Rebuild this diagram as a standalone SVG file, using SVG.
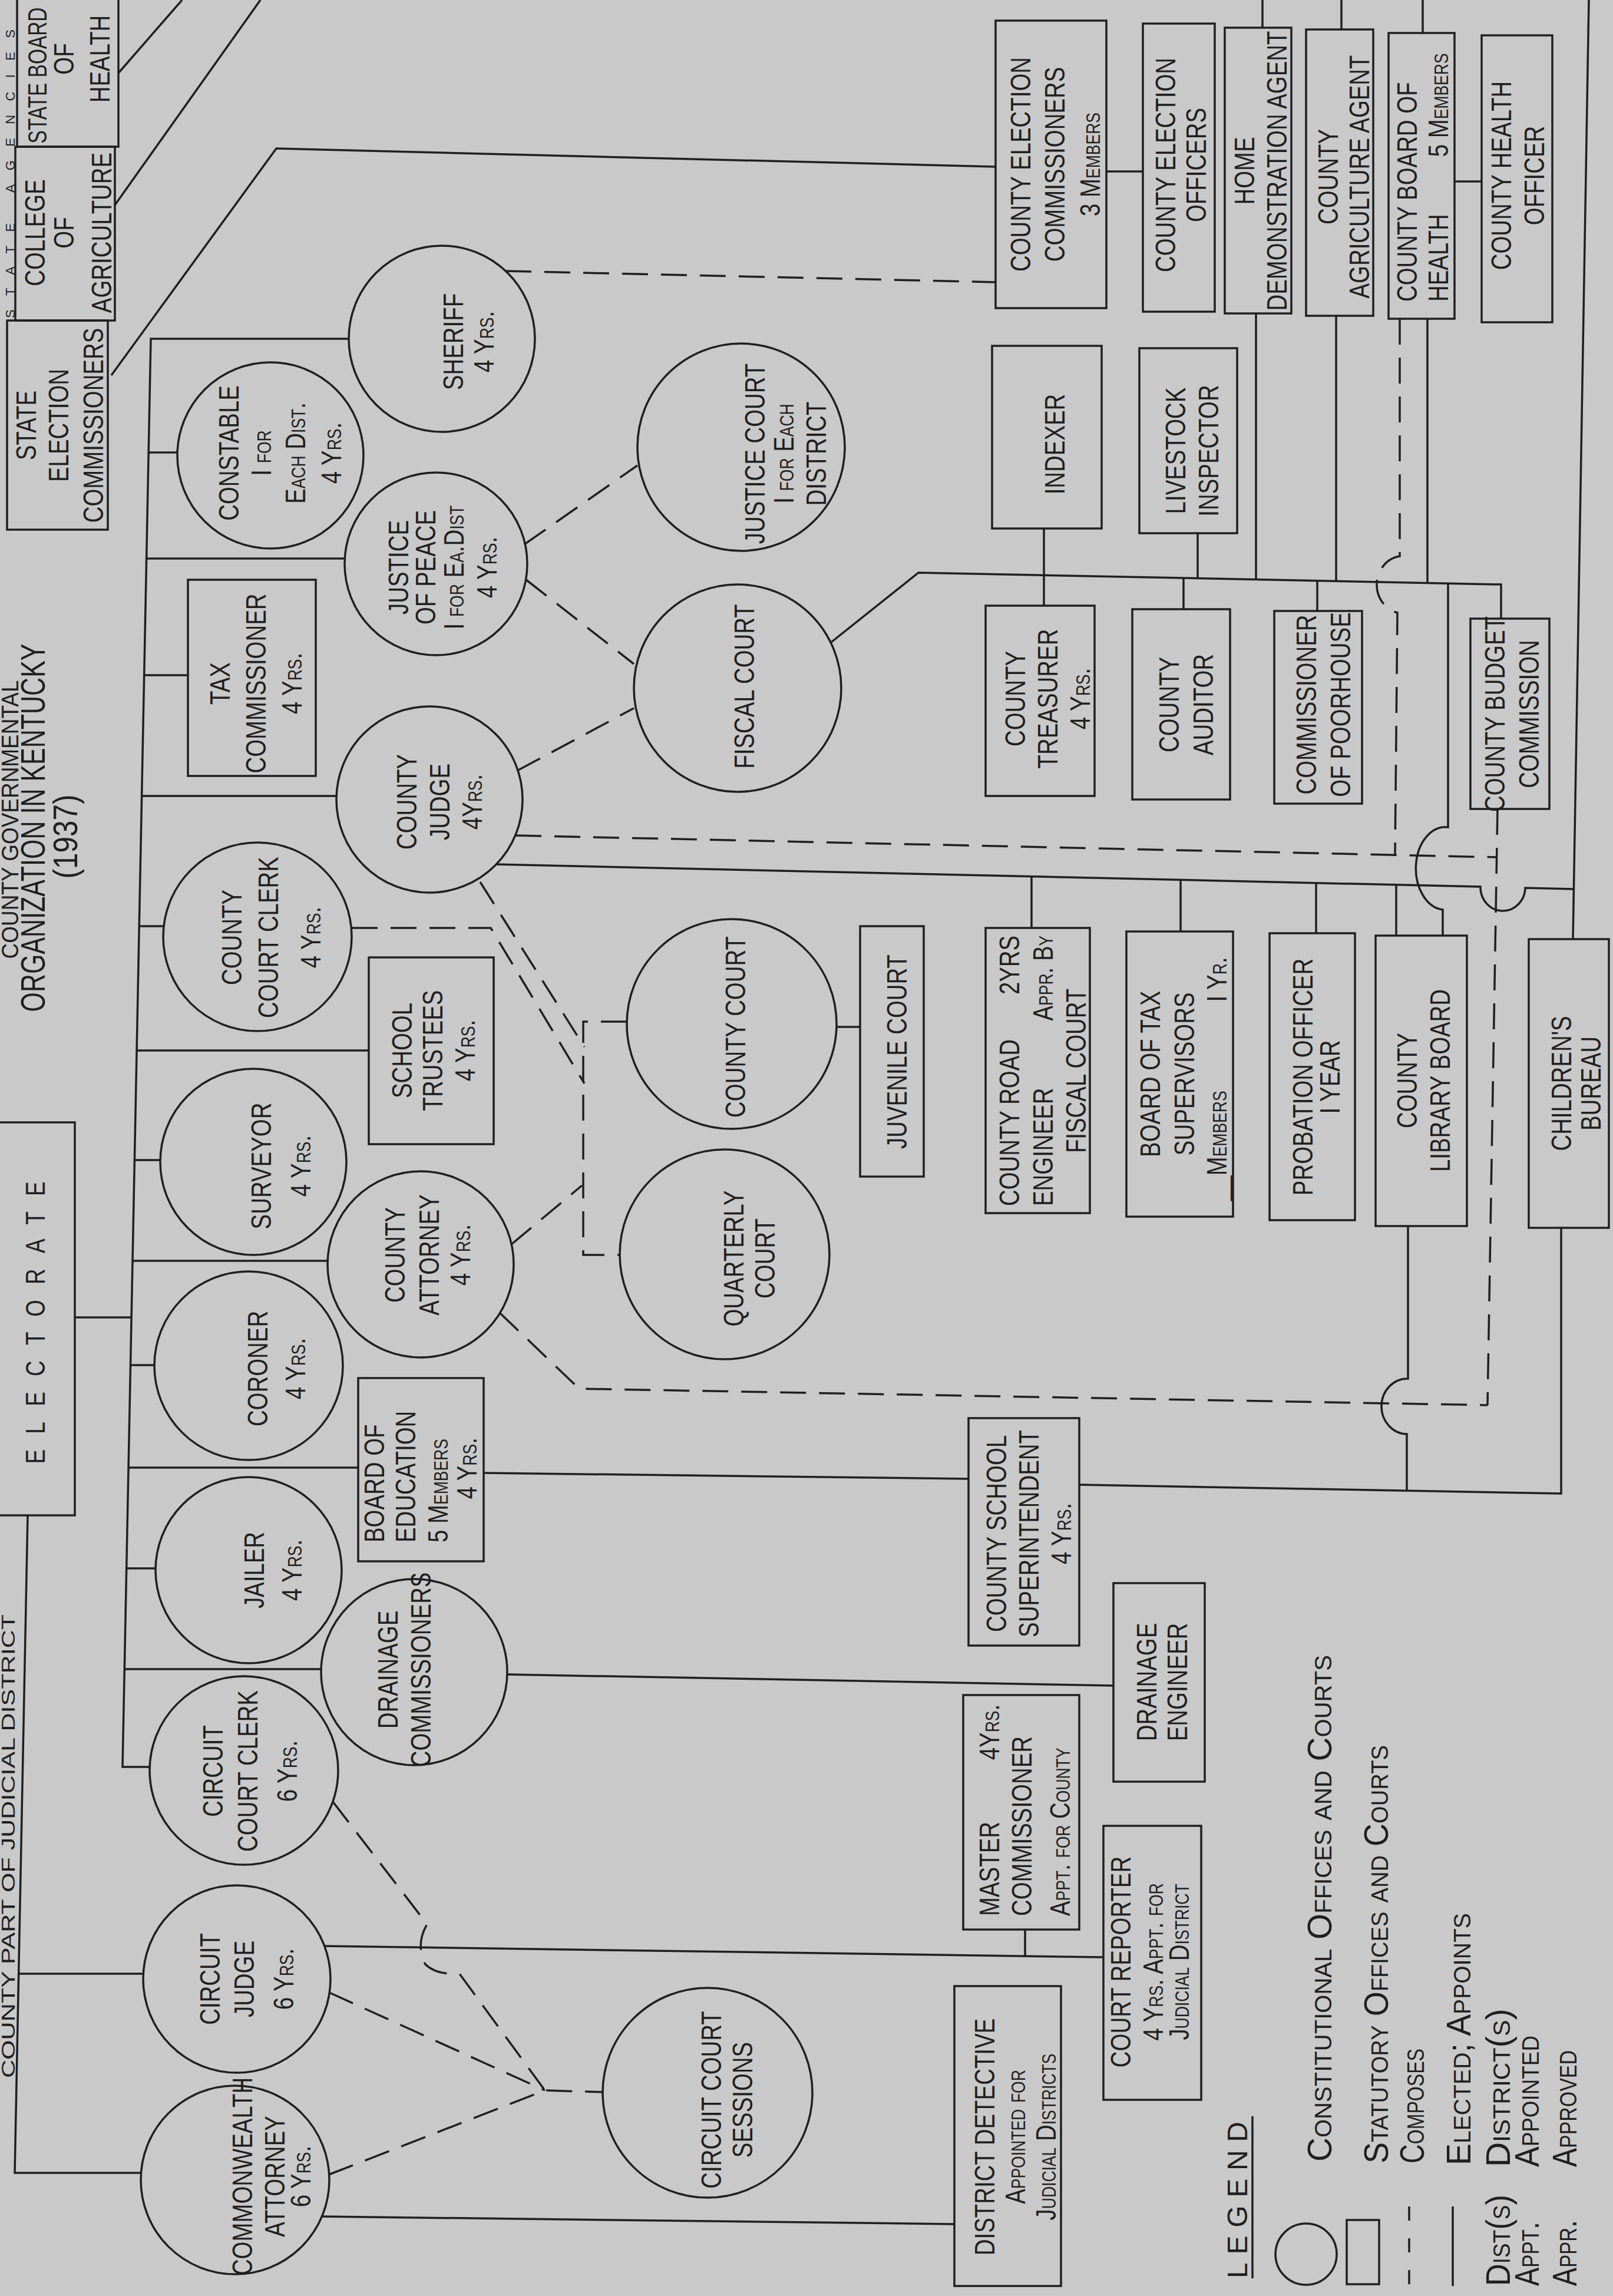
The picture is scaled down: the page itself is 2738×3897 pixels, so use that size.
<svg xmlns="http://www.w3.org/2000/svg" width="2738" height="3897" viewBox="0 0 2738 3897">
<style>
text{font-family:'Liberation Sans','DejaVu Sans',Arial,sans-serif;fill:#1f1f1f;font-variant:small-caps;font-size:48px}
.m{text-anchor:middle}
.e{text-anchor:end}
.ttl{font-size:57px}
.lg{font-size:58px}
.sh{fill:none;stroke:#1f1f1f;stroke-width:3.5}
.ln{fill:none;stroke:#1f1f1f;stroke-width:3.5}
.ds{fill:none;stroke:#1f1f1f;stroke-width:3.5;stroke-dasharray:44 22}
</style>
<rect width="2738" height="3897" fill="#c9c9c9"/>

<g id="labels">
<text class="ttl m" style="font-size:40px" transform="translate(31,1391) rotate(-90)" textLength="473" lengthAdjust="spacingAndGlyphs">COUNTY GOVERNMENTAL</text>
<text class="ttl m" transform="translate(76,1405) rotate(-90)" textLength="625" lengthAdjust="spacingAndGlyphs">ORGANIZATION IN KENTUCKY</text>
<text class="ttl m" transform="translate(131,1420) rotate(-90)" textLength="143" lengthAdjust="spacingAndGlyphs">(1937)</text>
<text style="font-size:32px" transform="translate(25,3527) rotate(-90)" textLength="787" lengthAdjust="spacingAndGlyphs">COUNTY PART OF JUDICIAL DISTRICT</text>
<text style="font-size:22px" transform="translate(25,540) rotate(-90)" textLength="490" lengthAdjust="spacing">STATE AGENCIES</text>
</g>

<g id="connectors">
<path class="ln" d="M591,575 H256 L208,2999 H254"/>
<path class="ln" d="M252,768 H301 M248,948 H585 M245,1146 H319 M241,1351 H571 M236,1572 H278 M232,1783 H626 M228,1969 H272 M225,2140 H556 M127,2236 H223 M221,2317 H262 M218,2491 H608 M215,2662 H264 M211,2833 H545"/>
<path class="ln" d="M47,2572 L25,3688 H240 M31,3350 H243"/>
<path class="ln" d="M201,124 L309,0 M195,348 L442,0 M189,637 L469,252 L1690,283"/>
<path class="ln" d="M1878,291 H1940 M2143,0 V47 M2277,0 V50 M2415,0 V56 M2469,308 H2515 M2697,0 L2670,1594"/>
<path class="ln" d="M1411,1090 L1559,972 L2548,992 V1050"/>
<path class="ln" d="M1772,897 V1028 M2033,905 V982 M2009,981 V1034 M2132,532 V984 M2236,986 V1037 M2268,536 V986 M2423,541 V989"/>
<path class="ln" d="M2458,990 V1404 A50,70 0 0,0 2449,1544 V1588"/>
<path class="ln" d="M842,1467 L2513,1505 A38,40 0 0,0 2589,1507 L2671,1509"/>
<path class="ln" d="M1751,1488 V1575 M2004,1493 V1581 M2234,1499 V1584 M2370,1502 V1588"/>
<path class="ln" d="M1420,1743 H1460"/>
<path class="ln" d="M821,2500 L1644,2510 M1832,2520 L2650,2535 V2084"/>
<path class="ln" d="M2390,2081 V2340 A44,47 0 0,0 2388,2434 V2529"/>
<path class="ln" d="M861,2842 L1890,2861"/>
<path class="ln" d="M551,3303 L1873,3322 M1740,3275 V3320"/>
<path class="ln" d="M546,3762 L1620,3775"/>
<path class="ds" d="M858,460 L1690,479"/>
<path class="ds" d="M890,924 L1082,790 M893,984 L1076,1127 M878,1308 L1076,1202"/>
<path class="ds" d="M875,1418 L2542,1455"/>
<path class="ds" d="M2376,541 V944 A46,49 0 0,0 2372,1040 L2368,1453"/>
<path class="ds" d="M2542,1373 L2525,2385"/>
<path class="ds" d="M597,1575 H833 L992,1839 M815,1497 L992,1777 M868,2112 L988,2012"/>
<path class="ds" d="M1064,1734 H990 V2130 H1053"/>
<path class="ds" d="M848,2228 L983,2357 L2525,2385"/>
<path class="ds" d="M565,3058 L725,3266 Q705,3300 722,3334 Q740,3352 780,3350 L925,3548 M559,3382 L925,3548 M558,3691 L925,3548 L1024,3551"/>
</g>

<g id="state-board-of-health"><rect class="sh" x="29" y="-60" width="172" height="309"/><g transform="translate(79,128) rotate(-90) scale(.76,1)"><text class="m" style="font-size:44px">STATE BOARD</text></g><g transform="translate(115,100) rotate(-90) scale(.8,1)"><text class="m" y="10">OF</text><text class="m" y="71">HEALTH</text></g></g>
<g id="college-of-agriculture"><rect class="sh" x="26" y="249" width="169" height="295"/><g transform="translate(110,395) rotate(-90) scale(.8,1)"><text class="m" y="-34">COLLEGE</text><text class="m" y="15">OF</text><text class="m" y="79">AGRICULTURE</text></g></g>
<g id="state-election-commissioners"><rect class="sh" x="12" y="544" width="171" height="355"/><g transform="translate(97,722) rotate(-90) scale(.8,1)"><text class="m" y="-36">STATE</text><text class="m" y="19">ELECTION</text><text class="m" y="78">COMMISSIONERS</text></g></g>
<g id="electorate"><rect class="sh" x="-10" y="1905" width="137" height="667"/><g transform="translate(76,2245) rotate(-90) scale(.8,1)"><text class="m" style="font-size:46px" textLength="599" lengthAdjust="spacing">ELECTORATE</text></g></g>

<g id="sheriff"><circle class="sh" cx="750" cy="575" r="158"/><g transform="translate(750,580) rotate(-90) scale(.8,1)"><text class="m" y="36">SHERIFF</text><text class="m" y="88">4 Yrs.</text></g></g>
<g id="constable"><circle class="sh" cx="459" cy="773" r="158"/><g transform="translate(459,769) rotate(-90) scale(.8,1)"><text class="m" y="-54">CONSTABLE</text><text class="m" y="1">I for</text><text class="m" y="59">Each Dist.</text><text class="m" y="120">4 Yrs.</text></g></g>
<g id="justice-of-peace"><circle class="sh" cx="740" cy="957" r="155"/><g transform="translate(740,963) rotate(-90) scale(.8,1)"><text class="m" y="-47">JUSTICE</text><text class="m" y="-1">OF PEACE</text><text class="m" y="47">I for Ea.Dist</text><text class="m" y="103">4 Yrs.</text></g></g>
<g id="tax-commissioner"><rect class="sh" x="319" y="984" width="217" height="333"/><g transform="translate(427,1160) rotate(-90) scale(.8,1)"><text class="m" y="-37">TAX</text><text class="m" y="24">COMMISSIONER</text><text class="m" y="85">4 Yrs.</text></g></g>
<g id="county-judge"><circle class="sh" cx="729" cy="1357" r="158"/><g transform="translate(729,1361) rotate(-90) scale(.8,1)"><text class="m" y="-22">COUNTY</text><text class="m" y="34">JUDGE</text><text class="m" y="89">4Yrs.</text></g></g>
<g id="county-court-clerk"><circle class="sh" cx="437" cy="1590" r="160"/><g transform="translate(437,1591) rotate(-90) scale(.8,1)"><text class="m" y="-27">COUNTY</text><text class="m" y="35">COURT CLERK</text><text class="m" y="107">4 Yrs.</text></g></g>
<g id="school-trustees"><rect class="sh" x="626" y="1625" width="212" height="317"/><g transform="translate(732,1783) rotate(-90) scale(.8,1)"><text class="m" y="-33">SCHOOL</text><text class="m" y="19">TRUSTEES</text><text class="m" y="74">4 Yrs.</text></g></g>
<g id="surveyor"><circle class="sh" cx="430" cy="1972" r="158"/><g transform="translate(430,1979) rotate(-90) scale(.8,1)"><text class="m" y="30">SURVEYOR</text><text class="m" y="97">4 Yrs.</text></g></g>
<g id="county-attorney"><circle class="sh" cx="714" cy="2146" r="158"/><g transform="translate(714,2130) rotate(-90) scale(.8,1)"><text class="m" y="-27">COUNTY</text><text class="m" y="31">ATTORNEY</text><text class="m" y="84">4 Yrs.</text></g></g>
<g id="coroner"><circle class="sh" cx="422" cy="2318" r="160"/><g transform="translate(422,2323) rotate(-90) scale(.8,1)"><text class="m" y="32">CORONER</text><text class="m" y="96">4 Yrs.</text></g></g>
<g id="board-of-education"><rect class="sh" x="608" y="2339" width="213" height="311"/><g transform="translate(714,2618) rotate(-90) scale(.8,1)"><text y="-62">BOARD OF</text><text y="-9">EDUCATION</text><text y="46">5 Members</text><text class="m" x="157" y="95">4 Yrs.</text></g></g>
<g id="jailer"><circle class="sh" cx="422" cy="2665" r="158"/><g transform="translate(422,2665) rotate(-90) scale(.8,1)"><text class="m" y="26">JAILER</text><text class="m" y="90">4 Yrs.</text></g></g>
<g id="drainage-commissioners"><circle class="sh" cx="703" cy="2838" r="158"/><g transform="translate(703,2834) rotate(-90) scale(.8,1)"><text class="m" y="-28">DRAINAGE</text><text class="m" y="28">COMMISSIONERS</text></g></g>
<g id="circuit-court-clerk"><circle class="sh" cx="414" cy="3005" r="160"/><g transform="translate(414,3006) rotate(-90) scale(.8,1)"><text class="m" y="-36">CIRCUIT</text><text class="m" y="23">COURT CLERK</text><text class="m" y="90">6 Yrs.</text></g></g>
<g id="circuit-judge"><circle class="sh" cx="402" cy="3359" r="159"/><g transform="translate(402,3359) rotate(-90) scale(.8,1)"><text class="m" y="-29">CIRCUIT</text><text class="m" y="29">JUDGE</text><text class="m" y="96">6 Yrs.</text></g></g>
<g id="commonwealth-attorney"><circle class="sh" cx="399" cy="3700" r="160"/><g transform="translate(399,3694) rotate(-90) scale(.8,1)"><text class="m" y="29">COMMONWEALTH</text><text class="m" y="84">ATTORNEY</text><text class="m" y="128">6 Yrs.</text></g></g>

<g id="justice-court"><circle class="sh" cx="1258" cy="759" r="176"/><g transform="translate(1258,770) rotate(-90) scale(.8,1)"><text class="m" y="40">JUSTICE COURT</text><text class="m" y="89">I for Each</text><text class="m" y="144">DISTRICT</text></g></g>
<g id="fiscal-court"><circle class="sh" cx="1252" cy="1168" r="176"/><g transform="translate(1252,1165) rotate(-90) scale(.8,1)"><text class="m" y="28">FISCAL COURT</text></g></g>
<g id="county-court"><circle class="sh" cx="1242" cy="1738" r="178"/><g transform="translate(1242,1743) rotate(-90) scale(.8,1)"><text class="m" y="23">COUNTY COURT</text></g></g>
<g id="quarterly-court"><circle class="sh" cx="1230" cy="2129" r="178"/><g transform="translate(1230,2136) rotate(-90) scale(.8,1)"><text class="m" y="32">QUARTERLY</text><text class="m" y="85">COURT</text></g></g>
<g id="circuit-court-sessions"><circle class="sh" cx="1201" cy="3552" r="178"/><g transform="translate(1201,3564) rotate(-90) scale(.8,1)"><text class="m" y="23">CIRCUIT COURT</text><text class="m" y="76">SESSIONS</text></g></g>
<g id="juvenile-court"><rect class="sh" x="1460" y="1572" width="108" height="425"/><g transform="translate(1514,1785) rotate(-90) scale(.8,1)"><text class="m" y="25">JUVENILE COURT</text></g></g>

<g id="county-election-commissioners"><rect class="sh" x="1690" y="35" width="188" height="488"/><g transform="translate(1784,279) rotate(-90) scale(.8,1)"><text class="m" y="-35">COUNTY ELECTION</text><text class="m" y="23">COMMISSIONERS</text><text class="m" y="83">3 Members</text></g></g>
<g id="county-election-officers"><rect class="sh" x="1940" y="40" width="122" height="489"/><g transform="translate(2001,280) rotate(-90) scale(.8,1)"><text class="m" y="-6">COUNTY ELECTION</text><text class="m" y="46">OFFICERS</text></g></g>
<g id="home-demonstration-agent"><rect class="sh" x="2079" y="47" width="113" height="485"/><g transform="translate(2135,290) rotate(-90) scale(.8,1)"><text class="m" y="-6">HOME</text><text class="m" y="49">DEMONSTRATION AGENT</text></g></g>
<g id="county-agriculture-agent"><rect class="sh" x="2217" y="50" width="114" height="486"/><g transform="translate(2274,300) rotate(-90) scale(.8,1)"><text class="m" y="-3">COUNTY</text><text class="m" y="50">AGRICULTURE AGENT</text></g></g>
<g id="county-board-of-health"><rect class="sh" x="2357" y="56" width="112" height="485"/><g transform="translate(2413,512) rotate(-90) scale(.8,1)"><text y="-8">COUNTY BOARD OF</text><text y="45">HEALTH</text><text class="e" x="527" y="45">5 Members</text></g></g>
<g id="county-health-officer"><rect class="sh" x="2515" y="60" width="120" height="487"/><g transform="translate(2575,298) rotate(-90) scale(.8,1)"><text class="m" y="-10">COUNTY HEALTH</text><text class="m" y="46">OFFICER</text></g></g>
<g id="indexer"><rect class="sh" x="1684" y="587" width="186" height="310"/><g transform="translate(1777,754) rotate(-90) scale(.8,1)"><text class="m" y="30">INDEXER</text></g></g>
<g id="livestock-inspector"><rect class="sh" x="1934" y="591" width="166" height="314"/><g transform="translate(2017,765) rotate(-90) scale(.8,1)"><text class="m" y="-5">LIVESTOCK</text><text class="m" y="51">INSPECTOR</text></g></g>
<g id="county-treasurer"><rect class="sh" x="1673" y="1028" width="185" height="323"/><g transform="translate(1765,1186) rotate(-90) scale(.8,1)"><text class="m" y="-25">COUNTY</text><text class="m" y="30">TREASURER</text><text class="m" y="85">4 Yrs.</text></g></g>
<g id="county-auditor"><rect class="sh" x="1922" y="1034" width="166" height="323"/><g transform="translate(2005,1196) rotate(-90) scale(.8,1)"><text class="m" y="-4">COUNTY</text><text class="m" y="54">AUDITOR</text></g></g>
<g id="commissioner-of-poorhouse"><rect class="sh" x="2163" y="1037" width="149" height="327"/><g transform="translate(2237,1196) rotate(-90) scale(.8,1)"><text class="m" y="-3">COMMISSIONER</text><text class="m" y="55">OF POORHOUSE</text></g></g>
<g id="county-budget-commission"><rect class="sh" x="2496" y="1050" width="134" height="323"/><g transform="translate(2563,1212) rotate(-90) scale(.8,1)"><text class="m" y="-9">COUNTY BUDGET</text><text class="m" y="49">COMMISSION</text></g></g>
<g id="county-road-engineer"><rect class="sh" x="1673" y="1575" width="177" height="484"/><g transform="translate(1761,2047) rotate(-90) scale(.8,1)"><text y="-31">COUNTY ROAD</text><text class="e" x="574" y="-31">2YRS</text><text y="26">ENGINEER</text><text class="e" x="574" y="26">Appr. By</text><text class="m" x="287" y="82">FISCAL COURT</text></g></g>
<g id="board-of-tax-supervisors"><rect class="sh" x="1912" y="1581" width="181" height="484"/><g transform="translate(2002,2038) rotate(-90) scale(.8,1)"><text class="m" x="269" y="-33">BOARD OF TAX</text><text class="m" x="269" y="25">SUPERVISORS</text><text y="80">__Members</text><text class="e" x="517" y="80">I Yr.</text></g></g>
<g id="probation-officer"><rect class="sh" x="2155" y="1584" width="145" height="487"/><g transform="translate(2227,1828) rotate(-90) scale(.8,1)"><text class="m" y="1">PROBATION OFFICER</text><text class="m" y="47">I YEAR</text></g></g>
<g id="county-library-board"><rect class="sh" x="2335" y="1588" width="155" height="493"/><g transform="translate(2412,1834) rotate(-90) scale(.8,1)"><text class="m" y="-7">COUNTY</text><text class="m" y="49">LIBRARY BOARD</text></g></g>
<g id="childrens-bureau"><rect class="sh" x="2595" y="1594" width="136" height="490"/><g transform="translate(2663,1839) rotate(-90) scale(.8,1)"><text class="m" y="4">CHILDREN'S</text><text class="m" y="54">BUREAU</text></g></g>
<g id="county-school-superintendent"><rect class="sh" x="1644" y="2407" width="188" height="386"/><g transform="translate(1738,2603) rotate(-90) scale(.8,1)"><text class="m" y="-30">COUNTY SCHOOL</text><text class="m" y="25">SUPERINTENDENT</text><text class="m" y="80">4 Yrs.</text></g></g>
<g id="drainage-engineer"><rect class="sh" x="1890" y="2687" width="155" height="337"/><g transform="translate(1967,2855) rotate(-90) scale(.8,1)"><text class="m" y="-4">DRAINAGE</text><text class="m" y="48">ENGINEER</text></g></g>
<g id="master-commissioner"><rect class="sh" x="1635" y="2877" width="197" height="398"/><g transform="translate(1733,3252) rotate(-90) scale(.8,1)"><text y="-37">MASTER</text><text class="e" x="449" y="-37">4Yrs.</text><text y="18">COMMISSIONER</text><text y="83">Appt. for County</text></g></g>
<g id="court-reporter"><rect class="sh" x="1873" y="3099" width="166" height="465"/><g transform="translate(1956,3330) rotate(-90) scale(.8,1)"><text class="m" y="-37">COURT REPORTER</text><text class="m" y="18">4 Yrs. Appt. for</text><text class="m" y="62">Judicial District</text></g></g>
<g id="district-detective"><rect class="sh" x="1620" y="3371" width="181" height="509"/><g transform="translate(1710,3627) rotate(-90) scale(.8,1)"><text class="m" y="-22">DISTRICT DETECTIVE</text><text class="m" y="30">Appointed for</text><text class="m" y="82">Judicial Districts</text></g></g>

<g id="legend">
<text class="m" transform="translate(2117,3734) rotate(-90)" textLength="266" lengthAdjust="spacing">LEGEND</text>
<path class="ln" d="M2126,3592 V3867"/>
<circle class="sh" cx="2217" cy="3826" r="52"/>
<rect class="sh" x="2286" y="3768" width="55" height="109"/>
<path class="ln" d="M2392,3745 V3880" stroke-dasharray="24 30"/>
<path class="ln" d="M2466,3745 V3880"/>
<text class="lg" transform="translate(2260,3669) rotate(-90)" textLength="860" lengthAdjust="spacingAndGlyphs">Constitutional Offices and Courts</text>
<text class="lg" transform="translate(2356,3672) rotate(-90)" textLength="710" lengthAdjust="spacingAndGlyphs">Statutory Offices and Courts</text>
<text class="lg" transform="translate(2417,3672) rotate(-90)" textLength="195" lengthAdjust="spacingAndGlyphs">Composes</text>
<text class="lg" transform="translate(2496,3675) rotate(-90)" textLength="428" lengthAdjust="spacingAndGlyphs">Elected; Appoints</text>
<text class="lg" transform="translate(2563,3880) rotate(-90)" textLength="155" lengthAdjust="spacingAndGlyphs">Dist(s)</text>
<text class="lg" transform="translate(2563,3678) rotate(-90)" textLength="269" lengthAdjust="spacingAndGlyphs">District(s)</text>
<text class="lg" transform="translate(2612,3880) rotate(-90)" textLength="109" lengthAdjust="spacingAndGlyphs">Appt.</text>
<text class="lg" transform="translate(2612,3678) rotate(-90)" textLength="223" lengthAdjust="spacingAndGlyphs">Appointed</text>
<text class="lg" transform="translate(2676,3880) rotate(-90)" textLength="112" lengthAdjust="spacingAndGlyphs">Appr.</text>
<text class="lg" transform="translate(2676,3678) rotate(-90)" textLength="198" lengthAdjust="spacingAndGlyphs">Approved</text>
</g>
</svg>
